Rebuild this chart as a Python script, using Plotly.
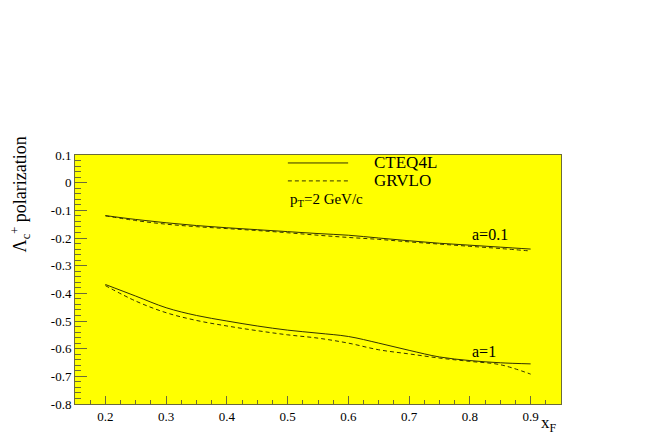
import plotly.graph_objects as go

# ── Data ──────────────────────────────────────────────────────────────────────
XF = [0.2, 0.25, 0.3, 0.35, 0.4, 0.45, 0.5, 0.55, 0.6, 0.65, 0.7, 0.75, 0.8, 0.85, 0.9]

# a = 0.1
CTEQ_A01 = [-0.119, -0.133, -0.145, -0.155, -0.163, -0.170, -0.177, -0.184,
            -0.190, -0.200, -0.210, -0.219, -0.226, -0.233, -0.240]
GRV_A01  = [-0.120, -0.137, -0.150, -0.159, -0.166, -0.173, -0.181, -0.190,
            -0.198, -0.205, -0.214, -0.222, -0.230, -0.238, -0.247]

# a = 1
CTEQ_A1 = [-0.368, -0.410, -0.452, -0.480, -0.500, -0.518, -0.533, -0.544,
           -0.556, -0.580, -0.606, -0.630, -0.643, -0.651, -0.655]
GRV_A1  = [-0.372, -0.428, -0.470, -0.498, -0.518, -0.535, -0.550, -0.562,
           -0.580, -0.604, -0.619, -0.634, -0.646, -0.658, -0.692]

X_TICKS = [0.2, 0.3, 0.4, 0.5, 0.6, 0.7, 0.8, 0.9]
X_TICKTEXT = ["0.2", "0.3", "0.4", "0.5", "0.6", "0.7", "0.8", "0.9"]
Y_TICKS = [0.1, 0, -0.1, -0.2, -0.3, -0.4, -0.5, -0.6, -0.7, -0.8]
Y_TICKTEXT = ["0.1", "0", "-0.1", "-0.2", "-0.3", "-0.4", "-0.5", "-0.6", "-0.7", "-0.8"]

# ── Style ──────────────────────────────────────────────────────────────────────
SERIF      = "Liberation Serif, Times New Roman, serif"
LINE_COLOR = "#333300"
FRAME      = "#6b6b3a"
PLOT_BG    = "#ffff00"

fig = go.Figure()

for ys, dash in [(CTEQ_A01, "solid"), (GRV_A01, "dash"),
                 (CTEQ_A1, "solid"), (GRV_A1, "dash")]:
    fig.add_trace(go.Scatter(
        x=XF, y=ys, mode="lines", line_shape="spline",
        line=dict(color=LINE_COLOR, width=1, dash="4px,3px" if dash == "dash" else "solid"),
        showlegend=False, hoverinfo="skip",
    ))

# hand-made legend in the ROOT style
for yp, dash, label in [(0.968, "solid", "CTEQ4L"), (0.896, "4px,3px", "GRVLO")]:
    fig.add_shape(type="line", xref="paper", yref="paper",
                  x0=0.438, x1=0.562, y0=yp, y1=yp,
                  line=dict(color=LINE_COLOR, width=1, dash=dash))
    fig.add_annotation(xref="paper", yref="paper", x=0.611, y=yp,
                       xanchor="left", yanchor="middle", showarrow=False,
                       text=label, font=dict(family=SERIF, size=17, color="black"))

fig.add_annotation(xref="paper", yref="paper", x=0.438, y=0.818,
                   xanchor="left", yanchor="middle", showarrow=False,
                   text="p<sub>T</sub>=2 GeV/c",
                   font=dict(family=SERIF, size=15, color="black"))

fig.add_annotation(x=0.80, y=-0.186, xanchor="left", yanchor="middle", showarrow=False,
                   text="a=0.1", font=dict(family=SERIF, size=16, color="black"))
fig.add_annotation(x=0.80, y=-0.612, xanchor="left", yanchor="middle", showarrow=False,
                   text="a=1", font=dict(family=SERIF, size=16, color="black"))

# axis titles
fig.add_annotation(xref="paper", yref="paper", x=-0.112, y=0.84,
                   xanchor="center", yanchor="middle", showarrow=False, textangle=-90,
                   text="Λ<sub>c</sub><sup>+</sup> polarization",
                   font=dict(family=SERIF, size=18, color="black"))
fig.add_annotation(xref="paper", yref="paper", x=0.995, y=-0.03,
                   xanchor="right", yanchor="top", showarrow=False,
                   text="x<sub>F</sub>",
                   font=dict(family=SERIF, size=17, color="black"))

# the page body adds an 8px margin, so the figure is 8px smaller than the window
fig.update_layout(
    width=646, height=428,
    paper_bgcolor="white", plot_bgcolor=PLOT_BG,
    margin=dict(l=67, r=93, t=147, b=32),
    font=dict(family=SERIF, size=13, color="black"),
    showlegend=False,
)
fig.update_xaxes(
    range=[0.15, 0.95], tickvals=X_TICKS, ticktext=X_TICKTEXT,
    ticks="inside", ticklen=8, tickcolor=FRAME,
    minor=dict(dtick=0.025, tick0=0.15, ticks="inside", ticklen=4, tickcolor=FRAME),
    showgrid=False, zeroline=False, showline=True, linecolor=FRAME, linewidth=1,
    mirror=True, tickfont=dict(family=SERIF, size=13),
)
fig.update_yaxes(
    range=[-0.8, 0.1], tickvals=Y_TICKS, ticktext=Y_TICKTEXT,
    ticks="inside", ticklen=12, tickcolor=FRAME,
    minor=dict(dtick=0.02, tick0=0, ticks="inside", ticklen=6, tickcolor=FRAME),
    showgrid=False, zeroline=False, showline=True, linecolor=FRAME, linewidth=1,
    mirror=True, tickfont=dict(family=SERIF, size=13),
)

fig.write_html("out.html")
